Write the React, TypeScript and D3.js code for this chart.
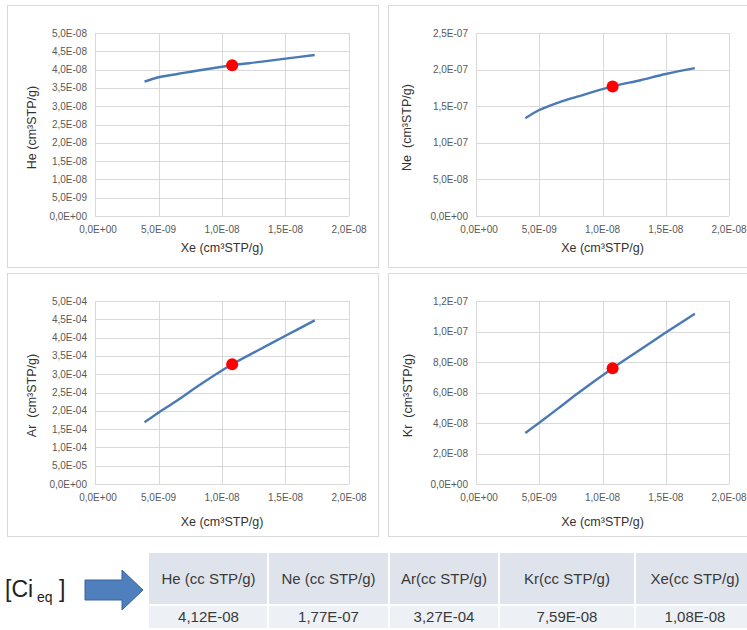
import React from "react";
import * as d3 from "d3";

// Xe concentration (x axis, shared by the four plots)
const xeValues = [3.9e-9, 5.0e-9, 6.5e-9, 8.0e-9, 1.08e-8, 1.3e-8, 1.5e-8, 1.73e-8];
const heValues = [3.67e-8, 3.79e-8, 3.88e-8, 3.97e-8, 4.12e-8, 4.21e-8, 4.3e-8, 4.4e-8];
const neValues = [1.335e-7, 1.448e-7, 1.55e-7, 1.63e-7, 1.77e-7, 1.855e-7, 1.94e-7, 2.02e-7];
const arValues = [1.69e-4, 1.95e-4, 2.29e-4, 2.65e-4, 3.27e-4, 3.68e-4, 4.05e-4, 4.47e-4];
const krValues = [3.34e-8, 4.02e-8, 4.96e-8, 5.92e-8, 7.59e-8, 8.82e-8, 9.93e-8, 1.117e-7];

// equilibrium point (red dot)
const eqXe = 1.08e-8;
const eqValues = [4.12e-8, 1.77e-7, 3.27e-4, 7.59e-8];

const xTicks = [0, 5e-9, 1e-8, 1.5e-8, 2e-8];
const heTicks = [0, 5e-9, 1e-8, 1.5e-8, 2e-8, 2.5e-8, 3e-8, 3.5e-8, 4e-8, 4.5e-8, 5e-8];
const neTicks = [0, 5e-8, 1e-7, 1.5e-7, 2e-7, 2.5e-7];
const arTicks = [0, 5e-5, 1e-4, 1.5e-4, 2e-4, 2.5e-4, 3e-4, 3.5e-4, 4e-4, 4.5e-4, 5e-4];
const krTicks = [0, 2e-8, 4e-8, 6e-8, 8e-8, 1e-7, 1.2e-7];

const yLabels = ["He (cm³STP/g)", "Ne  (cm³STP/g)", "Ar  (cm³STP/g)", "Kr  (cm³STP/g)"];
const xLabel = "Xe (cm³STP/g)";

const tableHeaders = ["He (cc STP/g)", "Ne (cc STP/g)", "Ar(cc STP/g)", "Kr(cc STP/g)", "Xe(cc STP/g)"];
const tableValues = ["4,12E-08", "1,77E-07", "3,27E-04", "7,59E-08", "1,08E-08"];

const FONT = "'Liberation Sans', Arial, sans-serif";

function sci(v: number) {
  if (v === 0) return "0,0E+00";
  let e = Math.floor(Math.log10(Math.abs(v)) + 1e-9);
  let m = v / Math.pow(10, e);
  const s = e < 0 ? "-" : "+";
  return m.toFixed(1).replace(".", ",") + "E" + s + String(Math.abs(e)).padStart(2, "0");
}

function Panel({ box, ticks, values, eq, label, titleDy, yTitleX }) {
  const x0 = box.x + 88;
  const y0 = box.y + 28;
  const w = box.w === 371 ? 254 : 253;
  const h = 183;
  const x = d3.scaleLinear().domain([0, 2e-8]).range([x0, x0 + w]);
  const y = d3.scaleLinear().domain([0, ticks[ticks.length - 1]]).range([y0 + h, y0]);
  const line = d3
    .line<number>()
    .x((d, i) => x(xeValues[i]))
    .y((d) => y(d))
    .curve(d3.curveCatmullRom.alpha(0.5));
  const cy = y0 + h / 2 + 3;

  return (
    <g>
      <rect x={box.x + 0.5} y={box.y + 0.5} width={box.w} height={box.h} fill="#fff" stroke="#d9d9d9" />
      {ticks.map((t) => (
        <line key={"h" + t} x1={x0} x2={x0 + w} y1={Math.round(y(t)) + 0.5} y2={Math.round(y(t)) + 0.5} stroke="#d9d9d9" />
      ))}
      {xTicks.map((t) => (
        <line key={"v" + t} x1={Math.round(x(t)) + 0.5} x2={Math.round(x(t)) + 0.5} y1={y0} y2={y0 + h} stroke="#d9d9d9" />
      ))}
      {ticks.map((t) => (
        <text key={"yl" + t} x={x0 - 8} y={y(t)} dy="0.35em" textAnchor="end" fontSize={10} fill="#595959">
          {sci(t)}
        </text>
      ))}
      {xTicks.map((t) => (
        <text key={"xl" + t} x={x(t) + (t === 0 ? 3 : 0)} y={y0 + h + 17} textAnchor="middle" fontSize={10} fill="#595959">
          {sci(t)}
        </text>
      ))}
      <path d={line(values) || ""} fill="none" stroke="#4a7ab6" strokeWidth={2.4} strokeLinejoin="round" />
      <circle cx={x(eqXe)} cy={y(eq)} r={6} fill="#ff0000" />
      <text x={x0 + w / 2} y={y0 + h + titleDy} textAnchor="middle" fontSize={12.5} fill="#333">
        {xLabel}
      </text>
      <text
        transform={`translate(${yTitleX},${cy}) rotate(-90)`}
        textAnchor="middle"
        fontSize={12.5}
        fill="#333"
        style={{ whiteSpace: "pre" }}
      >
        {label}
      </text>
    </g>
  );
}

const colEdges = [149, 268, 389, 499, 635, 755];

export default function App() {
  const panelDefs = [
    { box: { x: 7, y: 5, w: 371, h: 262 }, ticks: heTicks, values: heValues, titleDy: 36, yTitleX: 36 },
    { box: { x: 388, y: 5, w: 372, h: 262 }, ticks: neTicks, values: neValues, titleDy: 36, yTitleX: 411 },
    { box: { x: 7, y: 273, w: 371, h: 263 }, ticks: arTicks, values: arValues, titleDy: 42, yTitleX: 36 },
    { box: { x: 388, y: 273, w: 372, h: 263 }, ticks: krTicks, values: krValues, titleDy: 42, yTitleX: 412 },
  ];

  return (
    <svg
      width={747}
      height={630}
      style={{ position: "absolute", left: 0, top: 0, background: "#fff" }}
      fontFamily={FONT}
    >
      <rect width={747} height={630} fill="#fff" />
      {panelDefs.map((p, i) => (
        <Panel key={i} {...p} eq={eqValues[i]} label={yLabels[i]} />
      ))}

      {/* [Ci eq] label */}
      <text x={5} y={597} fontSize={23} fill="#222">
        [Ci
        <tspan fontSize={14} dy={5}> eq</tspan>
        <tspan fontSize={23} dy={-5}> ]</tspan>
      </text>

      {/* arrow */}
      <polygon
        points="85,580 122,580 122,570 143,590 122,610 122,600 85,600"
        fill="#4f7fbc"
        stroke="#3b6597"
        strokeWidth={1}
      />

      {/* table */}
      {tableHeaders.map((hd, i) => {
        const a = colEdges[i];
        const b = colEdges[i + 1];
        return (
          <g key={hd}>
            <rect x={a} y={553} width={b - a} height={52} fill="#dfe4ec" />
            <rect x={a} y={605} width={b - a} height={23} fill="#edf0f5" />
            <text x={(a + b) / 2} y={584} textAnchor="middle" fontSize={15} fill="#3a3a3a">
              {hd}
            </text>
            <text x={(a + b) / 2} y={622} textAnchor="middle" fontSize={15} fill="#3a3a3a">
              {tableValues[i]}
            </text>
          </g>
        );
      })}
      {colEdges.slice(1, -1).map((e) => (
        <line key={e} x1={e} x2={e} y1={553} y2={628} stroke="#fff" strokeWidth={2} />
      ))}
      <line x1={149} x2={755} y1={605} y2={605} stroke="#fff" strokeWidth={2} />
    </svg>
  );
}
